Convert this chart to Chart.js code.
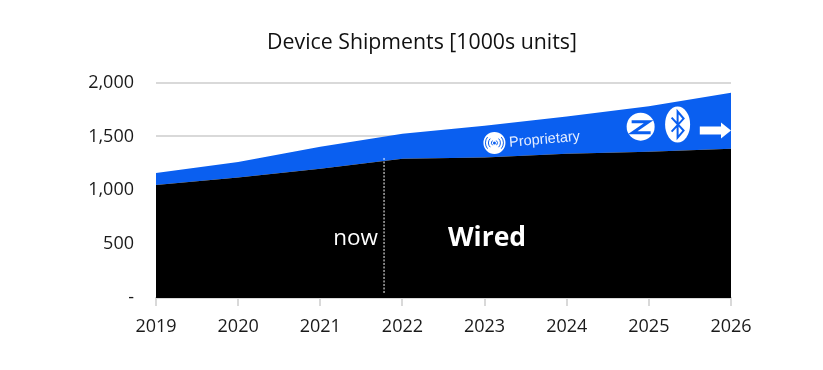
<!DOCTYPE html>
<html><head><meta charset="utf-8">
<style>html,body{margin:0;padding:0;background:#fff}canvas{display:block}</style>
<script src="https://cdn.jsdelivr.net/npm/chart.js@4"></script>
</head><body><div style="width:823px;height:370px"><canvas id="c" width="823" height="370"></canvas></div>
<script>
const years = ['2019','2020','2021','2022','2023','2024','2025','2026'];
const wired = [1050,1118,1200,1293,1305,1340,1358,1386];
const proprietary = [110,145,205,232,295,345,422,519];
const yTicks = [0,500,1000,1500,2000];
const nowIndex = 2.77;
const font = '"Open Sans"';

const overlay = {
  id:'overlay',
  afterDatasetsDraw(chart){
    const {ctx, scales:{x,y}} = chart;
    ctx.save();
    // now marker
    const nx = x.getPixelForValue(nowIndex);
    ctx.strokeStyle='#fff'; ctx.lineWidth=1; ctx.setLineDash([2,1.5]);
    ctx.beginPath(); ctx.moveTo(nx+.5,y.getPixelForValue(1300)); ctx.lineTo(nx+.5,y.getPixelForValue(45)); ctx.stroke();
    ctx.setLineDash([]);
    ctx.fillStyle='#fff'; ctx.textBaseline='middle';
    ctx.textAlign='right'; ctx.font='22.5px '+font; ctx.fillText('now',nx-5.5,y.getPixelForValue(555));
    ctx.textAlign='center'; ctx.font='bold 26.5px '+font; ctx.fillText('Wired',x.getPixelForValue(4.03),y.getPixelForValue(550));
    // Proprietary label
    const px=x.getPixelForValue(4.73), py=y.getPixelForValue(1470);
    ctx.save(); ctx.translate(px,py); ctx.rotate(-5*Math.PI/180);
    ctx.font='14.5px "Liberation Sans"'; ctx.fillStyle='#e4edff'; ctx.fillText('Proprietary',0,0); ctx.restore();
    // wireless icon
    const wx=x.getPixelForValue(4.12), wy=y.getPixelForValue(1440);
    ctx.fillStyle='#fff'; ctx.beginPath(); ctx.arc(wx,wy,11,0,7); ctx.fill();
    ctx.strokeStyle='#0a5ff0'; ctx.lineWidth=1;
    [[3,.9],[6,.8],[9,.7]].forEach(([r,a])=>{
      ctx.beginPath(); ctx.arc(wx,wy,r,-a,a); ctx.stroke();
      ctx.beginPath(); ctx.arc(wx,wy,r,Math.PI-a,Math.PI+a); ctx.stroke();
    });
    ctx.fillStyle='#0a5ff0'; ctx.beginPath(); ctx.arc(wx,wy,1.5,0,7); ctx.fill();
    // Zigbee icon
    const zx=x.getPixelForValue(5.9), zy=y.getPixelForValue(1590);
    ctx.fillStyle='#fff'; ctx.beginPath(); ctx.arc(zx,zy,14,0,7); ctx.fill();
    ctx.strokeStyle='#0a5ff0'; ctx.lineWidth=3; ctx.lineJoin='miter';
    ctx.beginPath(); ctx.moveTo(zx-9,zy-5); ctx.lineTo(zx+8,zy-5); ctx.lineTo(zx-8,zy+6); ctx.lineTo(zx+10,zy+6); ctx.stroke();
    // Bluetooth icon
    const bx=x.getPixelForValue(6.35), by=y.getPixelForValue(1610);
    ctx.fillStyle='#fff'; ctx.beginPath(); ctx.ellipse(bx,by,12.5,18,0,0,7); ctx.fill();
    ctx.strokeStyle='#0a5ff0'; ctx.lineWidth=2;
    ctx.beginPath(); ctx.moveTo(bx-6,by-7); ctx.lineTo(bx+6,by+6); ctx.lineTo(bx,by+13); ctx.lineTo(bx,by-13); ctx.lineTo(bx+6,by-6); ctx.lineTo(bx-6,by+7); ctx.stroke();
    // arrow
    const ax=x.getPixelForValue(6.62), ae=x.getPixelForValue(7), ay=y.getPixelForValue(1555);
    ctx.fillStyle='#fff'; ctx.fillRect(ax,ay-4,ae-ax-8,8);
    ctx.beginPath(); ctx.moveTo(ae-10,ay-8); ctx.lineTo(ae,ay); ctx.lineTo(ae-10,ay+8); ctx.closePath(); ctx.fill();
    ctx.restore();
  }
};

new Chart(document.getElementById('c'),{
  type:'line',
  data:{labels:years,datasets:[
    {label:'Wired',data:wired,backgroundColor:'#000',borderColor:'#000',borderWidth:0,fill:'origin',pointRadius:0,tension:0},
    {label:'Proprietary',data:proprietary,backgroundColor:'#0a5ff0',borderColor:'#0a5ff0',borderWidth:0,fill:'-1',pointRadius:0,tension:0}
  ]},
  plugins:[overlay],
  options:{
    responsive:false,animation:false,
    layout:{padding:{left:22,right:1,top:30,bottom:0}},
    plugins:{
      legend:{display:false},tooltip:{enabled:false},
      title:{display:true,text:'Device Shipments [1000s units]',color:'#111',font:{family:font,size:21.3,weight:'normal'},padding:{top:0,bottom:27}}
    },
    scales:{
      x:{type:'category',offset:false,
        grid:{drawOnChartArea:false,drawTicks:true,tickLength:8,color:'#d9d9d9',lineWidth:2},
        border:{color:'#d9d9d9',width:2},
        ticks:{color:'#1a1a1a',font:{family:font,size:18},padding:10,maxRotation:0,autoSkip:false},
        afterFit(s){s.height=72;}
      },
      y:{stacked:true,min:0,max:2000,
        afterBuildTicks(s){s.ticks=yTicks.map(v=>({value:v}));},
        grid:{drawTicks:false,color:'#d9d9d9',lineWidth:2},
        border:{display:false},
        ticks:{color:'#1a1a1a',font:{family:font,size:18},padding:22,callback:v=>v===0?'-':v.toLocaleString('en-US')},
        afterFit(s){s.width=134;}
      },
      pad:{position:'right',display:true,grid:{display:false},border:{display:false},ticks:{display:false},afterFit(s){s.width=91;}}
    }
  }
});
</script></body></html>
